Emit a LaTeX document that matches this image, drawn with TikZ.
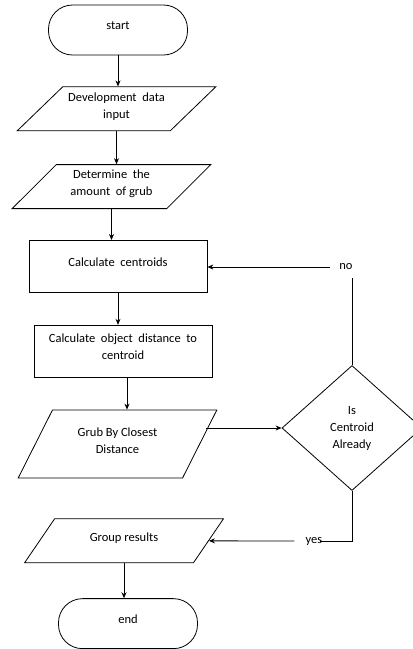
\documentclass[tikz,border=0pt]{standalone}
\usepackage{fontspec}
\setmainfont{Carlito}
\usepackage{tikz}
\usetikzlibrary{arrows.meta}
\usetikzlibrary{shapes.geometric}
\usetikzlibrary{positioning}

\begin{document}
\begin{tikzpicture}[x=1pt,y=-1pt,>={Stealth[length=6pt,width=5pt]},line width=0.8pt,
			node distance=32pt,font=\fontsize{12.5}{17}\selectfont]
			\tikzset{terminal/.style={draw, rectangle, rounded corners=24pt,
					minimum width=139pt, minimum height=50pt, text depth=9pt},
				process/.style={draw, rectangle, minimum width=178pt,
					minimum height=52pt, align=center, text depth=9pt},
				inout/.style={draw, trapezium, trapezium stretches=true,
					trapezium left angle=#1, trapezium right angle={180-#1},
					minimum width=199pt, align=center, text depth=7pt},
				decision/.style={draw, diamond, minimum width=140pt,
					minimum height=125pt, align=center},
				answer/.style={inner sep=1pt, fill=none}}
			\useasboundingbox (0,0) rectangle (413,649);

			\node[terminal] (start) at (118,30) {start};
			\node[inout=42, minimum height=44pt] (in1) [below=31pt of start, xshift=-1.5pt]
				{Development\ \ data\\input};
			\node[inout=48, minimum height=44pt] (in2) [below=33pt of in1, xshift=-5pt]
				{Determine\ \ the\\amount\ \ of grub};
			\node[process] (calc1) [below=31pt of in2, xshift=6.5pt] {Calculate\ \ centroids};
			\node[process] (calc2) [below=32pt of calc1, xshift=5pt]
				{Calculate\ \ object\ \ distance\ \ to\\centroid};
			\node[inout=60, minimum height=68pt] (grub) [below=32pt of calc2, xshift=-5.5pt]
				{Grub By Closest\\Distance};
			\node[inout=54, minimum height=44pt] (group) [below=40pt of grub, xshift=6.5pt]
				{Group results};
			\node[terminal] (end) [below=35pt of group, xshift=4pt] {end};
			\node[decision] (check) at (352,428) {Is\\Centroid\\Already};
			\node[answer] (no) at (346,267) {no};
			\node[answer] (yes) at (314,541) {yes};

			\path[->]
				(start.south) edge (start.south |- in1.north)
				(in1.south)   edge (in1.south |- in2.north)
				(in2.south)   edge (in2.south |- calc1.north)
				(calc1.south) edge (calc1.south |- calc2.north)
				([xshift=4pt]calc2.south) edge ([xshift=4pt]calc2.south |- grub.north)
				(group.south) edge (group.south |- end.north)
				([xshift=6pt]grub.east |- check.west) edge (check.west)
				([xshift=-8pt]no.west) edge (no.west -| calc1.east)
				([xshift=-10pt]yes.west) edge (group.east)
			;
			\draw (check.north) -- ([yshift=-7pt]check.north |- no.south);
			\draw (check.south) |- ([xshift=-4pt]yes.east);
			\end{tikzpicture}
\end{document}
